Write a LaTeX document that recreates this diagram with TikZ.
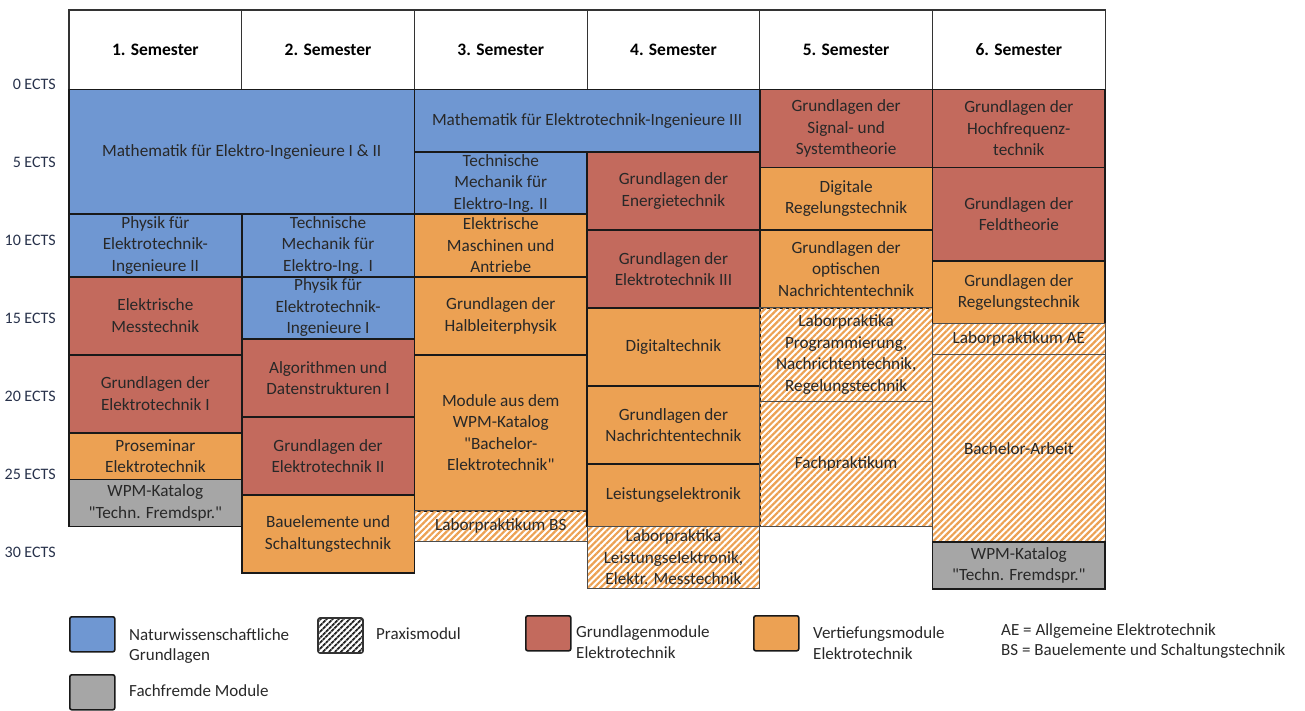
\documentclass[tikz,border=0pt]{standalone}
\usepackage{fontspec}
\setmainfont{Carlito}
\newfontfamily\qfont{Carlito}[Ligatures=ResetAll]
\usetikzlibrary{patterns.meta}
\definecolor{nblue}{RGB}{111,151,210}
\definecolor{gred}{RGB}{195,106,93}
\definecolor{vorange}{RGB}{236,161,83}
\definecolor{fgray}{RGB}{166,166,166}
\definecolor{txt}{RGB}{40,40,40}
\definecolor{ectsc}{RGB}{40,50,75}
\newcommand\dq{{\qfont\char34}}
\newcommand\modbox[7]{\node[#6, minimum width={(#3-#2)*1pt}, minimum height={(#5-#4)*15.6pt}, anchor=north west] (#1) at (#2,{-(89.5+#4*15.6)}) {#7};}
\newcommand\ectslabel[2]{\node[ects] (#1) at (56,{-(84.5+#2*15.6)}) {#2 ECTS};}
\begin{document}
\begin{tikzpicture}[x=1pt,y=1pt,
  mod/.style={draw=black!90, line width=1.6pt, inner sep=1pt, outer sep=0pt, align=center, text=txt, font=\fontsize{17.2}{21.5}\selectfont},
  nw/.style={mod, fill=nblue},
  gr/.style={mod, fill=gred},
  vt/.style={mod, fill=vorange},
  ff/.style={mod, fill=fgray},
  px/.style={mod, draw=black!70, line width=1.1pt, pattern={Lines[angle=45,distance=4.5pt,line width=2.2pt]}, pattern color=vorange},
  head/.style={draw=black!80, line width=1.2pt, fill=white, minimum width=172.7pt, minimum height=79.5pt, anchor=north west, inner sep=0pt, outer sep=0pt, font=\bfseries\fontsize{17.5}{20}\selectfont},
  ects/.style={anchor=east, inner sep=0pt, text=ectsc, font=\fontsize{16}{18}\selectfont},
  legbox/.style={draw=black!90, line width=1.6pt, rounded corners=2pt, minimum width=45pt, minimum height=35pt, inner sep=0pt, anchor=north west},
  legtxt/.style={anchor=west, align=left, inner sep=0pt, text=txt, font=\fontsize{17}{20.5}\selectfont}
]
\useasboundingbox (0,0) rectangle (1305,-711);
% header
\node[head] (h1) at (69,-10) {1. Semester};
\node[head] (h2) at (241.7,-10) {2. Semester};
\node[head] (h3) at (414.4,-10) {3. Semester};
\node[head] (h4) at (587.1,-10) {4. Semester};
\node[head] (h5) at (759.8,-10) {5. Semester};
\node[head] (h6) at (932.5,-10) {6. Semester};
% ECTS labels
\ectslabel{e0}{0}
\ectslabel{e5}{5}
\ectslabel{e10}{10}
\ectslabel{e15}{15}
\ectslabel{e20}{20}
\ectslabel{e25}{25}
\ectslabel{e30}{30}
% column 1
\modbox{math12}{69}{414.4}{0}{8}{nw}{Mathematik für Elektro-Ingenieure I \& II}
\modbox{phys2}{69}{241.7}{8}{12}{nw}{Physik für\\Elektrotechnik-\\Ingenieure II}
\modbox{messt}{69}{241.7}{12}{17}{gr}{Elektrische\\Messtechnik}
\modbox{gde1}{69}{241.7}{17}{22}{gr}{Grundlagen der\\Elektrotechnik I}
\modbox{prosem}{69}{241.7}{22}{25}{vt}{Proseminar\\Elektrotechnik}
\modbox{wpm1}{69}{241.7}{25}{28}{ff}{WPM-Katalog\\\dq Techn. Fremdspr.\dq}
% column 2
\modbox{tm1}{241.7}{414.4}{8}{12}{nw}{Technische\\Mechanik für\\Elektro-Ing. I}
\modbox{phys1}{241.7}{414.4}{12}{16}{nw}{Physik für\\Elektrotechnik-\\Ingenieure I}
\modbox{algo}{241.7}{414.4}{16}{21}{gr}{Algorithmen und\\Datenstrukturen I}
\modbox{gde2}{241.7}{414.4}{21}{26}{gr}{Grundlagen der\\Elektrotechnik II}
\modbox{baue}{241.7}{414.4}{26}{31}{vt}{Bauelemente und\\Schaltungstechnik}
% column 3
\modbox{math3}{414.4}{759.8}{0}{4}{nw}{Mathematik für Elektrotechnik-Ingenieure III}
\modbox{tm2}{414.4}{587.1}{4}{8}{nw}{Technische\\Mechanik für\\Elektro-Ing. II}
\modbox{elmasch}{414.4}{587.1}{8}{12}{vt}{Elektrische\\Maschinen und\\Antriebe}
\modbox{halbl}{414.4}{587.1}{12}{17}{vt}{Grundlagen der\\Halbleiterphysik}
\modbox{wpmbet}{414.4}{587.1}{17}{27}{vt}{Module aus dem\\WPM-Katalog\\\dq Bachelor-\\Elektrotechnik\dq}
\modbox{labbs}{414.4}{587.1}{27}{29}{px}{Laborpraktikum BS}
% column 4
\modbox{energ}{587.1}{759.8}{4}{9}{gr}{Grundlagen der\\Energietechnik}
\modbox{gde3}{587.1}{759.8}{9}{14}{gr}{Grundlagen der\\Elektrotechnik III}
\modbox{digit}{587.1}{759.8}{14}{19}{vt}{Digitaltechnik}
\modbox{nachr}{587.1}{759.8}{19}{24}{vt}{Grundlagen der\\Nachrichtentechnik}
\modbox{leist}{587.1}{759.8}{24}{28}{vt}{Leistungselektronik}
\modbox{lable}{587.1}{759.8}{28}{32}{px}{Laborpraktika\\Leistungselektronik,\\Elektr. Messtechnik}
% column 5
\modbox{signal}{759.8}{932.5}{0}{5}{gr}{Grundlagen der\\Signal- und\\Systemtheorie}
\modbox{digreg}{759.8}{932.5}{5}{9}{vt}{Digitale\\Regelungstechnik}
\modbox{optisch}{759.8}{932.5}{9}{14}{vt}{Grundlagen der\\optischen\\Nachrichtentechnik}
\modbox{labprog}{759.8}{932.5}{14}{20}{px}{Laborpraktika\\Programmierung,\\Nachrichtentechnik,\\Regelungstechnik}
\modbox{fachpr}{759.8}{932.5}{20}{28}{px}{Fachpraktikum}
% column 6
\modbox{hochf}{932.5}{1105.2}{0}{5}{gr}{Grundlagen der\\Hochfrequenz-\\technik}
\modbox{feld}{932.5}{1105.2}{5}{11}{gr}{Grundlagen der\\Feldtheorie}
\modbox{regel}{932.5}{1105.2}{11}{15}{vt}{Grundlagen der\\Regelungstechnik}
\modbox{labae}{932.5}{1105.2}{15}{17}{px}{Laborpraktikum AE}
\modbox{bach}{932.5}{1105.2}{17}{29}{px}{Bachelor-Arbeit}
\modbox{wpm6}{932.5}{1105.2}{29}{32}{ff}{WPM-Katalog\\\dq Techn. Fremdspr.\dq}
% legend
\node[legbox, fill=nblue] (lnw) at (69,-616) {};
\node[legtxt] (tnw) at (129,-646) {Naturwissenschaftliche\\Grundlagen};
\node[legbox, draw=black!80, pattern={Lines[angle=45,distance=4pt,line width=2pt]}, pattern color=black!85] (lpx) at (317,-617) {};
\node[legtxt] (tpx) at (376,-634) {Praxismodul};
\node[legbox, fill=gred] (lgr) at (525,-615) {};
\node[legtxt] (tgr) at (576,-642) {Grundlagenmodule\\Elektrotechnik};
\node[legbox, fill=vorange] (lvt) at (753,-615) {};
\node[legtxt] (tvt) at (813,-643) {Vertiefungsmodule\\Elektrotechnik};
\node[legtxt] (tabk) at (1001,-641) {AE = Allgemeine Elektrotechnik\\BS = Bauelemente und Schaltungstechnik};
\node[legbox, fill=fgray] (lff) at (69,-674) {};
\node[legtxt] (tff) at (129,-691) {Fachfremde Module};
\end{tikzpicture}
\end{document}
